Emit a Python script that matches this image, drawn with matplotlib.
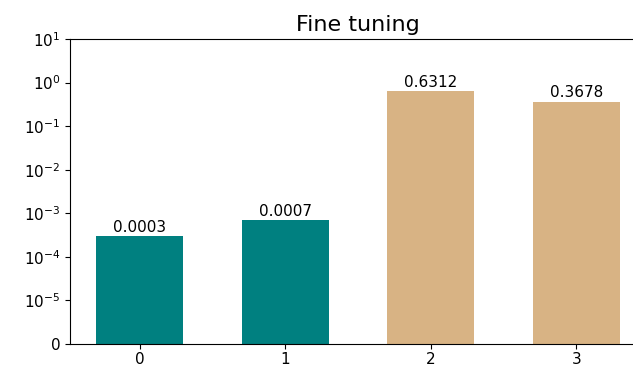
import matplotlib
matplotlib.use("Agg")
import matplotlib.pyplot as plt
from matplotlib.ticker import FixedLocator, NullLocator

# bar positions, values and colours
positions = [0, 1, 2, 3]
values = [0.0003, 0.0007, 0.6312, 0.3678]
colors = ["teal", "teal", "#D8B384", "#D8B384"]
yticks = [0, 1e-5, 1e-4, 1e-3, 1e-2, 1e-1, 1, 10]

fig = plt.figure(figsize=(6.33, 3.67), dpi=100)
ax = fig.add_axes([0.1106, 0.0627, 0.91, 0.831])

bars = ax.bar(positions, values, width=0.6, color=colors)
for b, v in zip(bars, values):
    ax.annotate("%.4f" % v, (b.get_x() + b.get_width() / 2, v),
                xytext=(0, 1), textcoords="offset points",
                ha="center", va="bottom", fontsize=11)

# linear part between 0 and 1e-5 takes up one decade
ax.set_yscale("symlog", linthresh=1e-5, linscale=0.9)
ax.set_ylim(0, 10)
ax.yaxis.set_major_locator(FixedLocator(yticks))
ax.yaxis.set_minor_locator(NullLocator())
ax.set_xlim(-0.48, 3.48)
ax.set_xticks(positions)
ax.tick_params(labelsize=11)
ax.tick_params(axis="x", pad=2)
ax.spines["right"].set_visible(False)
ax.set_title("Fine tuning", fontsize=16)

fig.savefig("out.png", dpi=100)
